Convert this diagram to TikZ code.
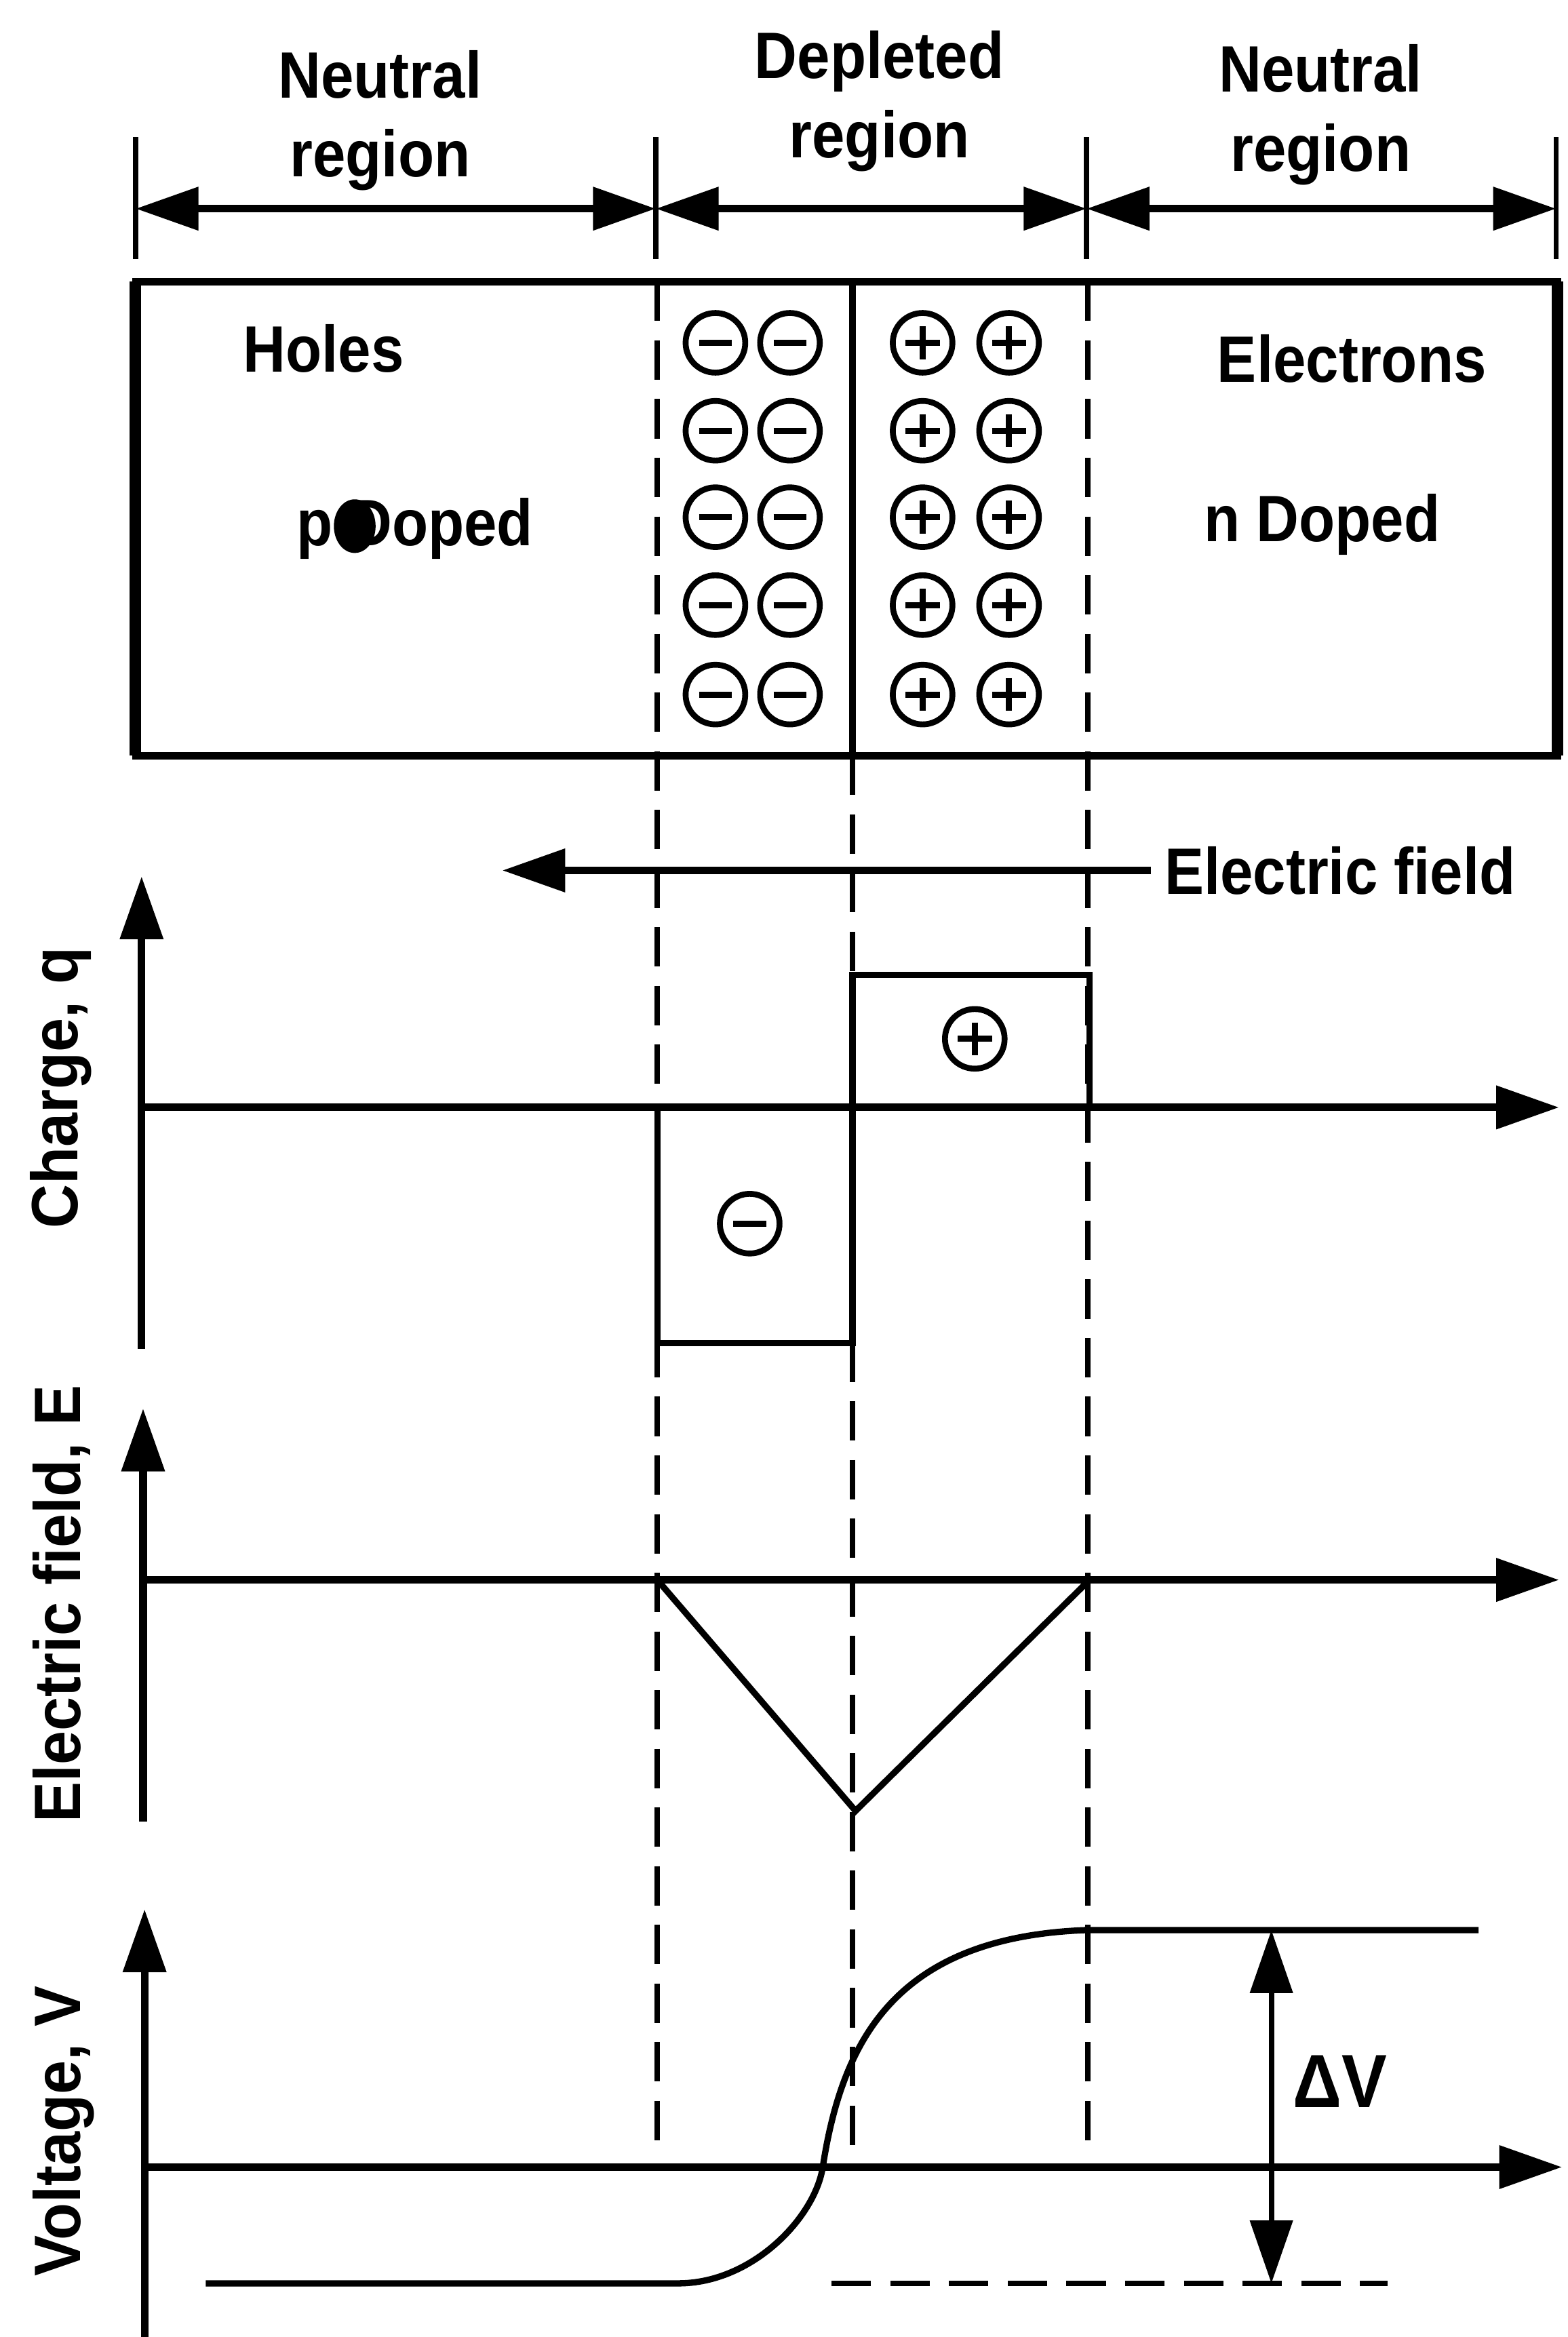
\documentclass[tikz,border=0pt]{standalone}
\usepackage{fontspec}
\setmainfont{Liberation Sans}
\newfontfamily\nfont[FakeStretch=0.9]{Liberation Sans}
\newfontfamily\rfont[FakeStretch=0.93]{Liberation Sans}
\usetikzlibrary{arrows.meta}
\begin{document}
\begin{tikzpicture}[x=0.025cm, y=-0.025cm,
  atip/.tip={Triangle[length=30pt,width=20pt]},
  lbl/.style={font=\nfont\bfseries\fontsize{31.3pt}{37.7pt}\selectfont, inner sep=0pt, align=center},
  vlbl/.style={font=\rfont\bfseries\fontsize{31.3pt}{37.7pt}\selectfont, inner sep=0pt, rotate=90, anchor=base},
  tickl/.style={line width=2.4pt},
  spanl/.style={line width=3.6pt, atip-atip},
  axisl/.style={line width=3.6pt, -atip},
  guide/.style={line width=2.6pt, dash pattern=on 18.8pt off 9.2pt},
  bline/.style={line width=3pt},
  vcurve/.style={line width=3pt, line join=round},
  ion/.style={circle, draw, line width=2.8pt, minimum size=1cm, inner sep=0pt},
  negion/.style={ion, path picture={\draw[line width=3pt] (path picture bounding box.center) ++(-11,0) -- ++(22,0);}},
  posion/.style={ion, path picture={\draw[line width=3pt] (path picture bounding box.center) ++(-11.5,0) -- ++(23,0);
      \draw[line width=3pt] (path picture bounding box.center) ++(0,-11) -- ++(0,22);}}
]
\path[fill=white, use as bounding box] (0,0) rectangle (1052,1568);

% ---------- region labels and spans ----------
\node[lbl, anchor=north] (nl) at (255,33.5) {Neutral\\region};
\node[lbl, anchor=north] (dl) at (590,20.5) {Depleted\\region};
\node[lbl, anchor=north] (nr) at (886,29.5) {Neutral\\region};

\foreach \x [count=\i] in {91,440,729,1044} {
  \coordinate (t\i) at (\x,92);
  \coordinate (b\i) at (\x,174);
  \coordinate (s\i) at (\x,140);
  \draw[tickl] (t\i) -- (b\i);
}
\draw[spanl] (s1) -- (s2);
\draw[spanl] (s2) -- (s3);
\draw[spanl] (s3) -- (s4);

% ---------- junction box ----------
\coordinate (boxNW) at (91,189);
\coordinate (boxSE) at (1045,507);
\draw[line width=3.4pt] (boxNW) rectangle (boxSE);
\draw[line width=5.5pt] (91,189) -- (91,507);
\draw[line width=5.5pt] (1045,189) -- (1045,507);
\draw[bline] (572,189) -- (572,507);

\node[lbl, anchor=base] (holes) at (217,249.5) {Holes};
\node[lbl, anchor=base] (pdop) at (278.5,366) {p Doped};
\fill (238,353) ellipse [x radius=14, y radius=18];
\node[lbl, anchor=base] (elec) at (907,256.5) {Electrons};
\node[lbl, anchor=base] (ndop) at (887,363.5) {n Doped};

\foreach \r [count=\i] in {230,289,347,406,466} {
  \node[negion] (m\i a) at (480,\r) {};
  \node[negion] (m\i b) at (530,\r) {};
  \node[posion] (p\i a) at (619,\r) {};
  \node[posion] (p\i b) at (677,\r) {};
}

% ---------- guide lines ----------
\draw[guide] (441,189) -- (441,1440);
\draw[guide] (572,507) -- (572,1440);
\draw[guide] (730,189) -- (730,1440);

% ---------- electric field arrow ----------
\coordinate (efR) at (772,584);
\coordinate (efL) at (337,584);
\draw[axisl] (efR) -- (efL);
\node[lbl, anchor=base west] (eflab) at (781,600) {Electric field};

% ---------- charge plot ----------
\coordinate (qO) at (95,743);
\draw[axisl] (95,905) -- (95,588);
\draw[axisl] (qO) -- (1046,743);
\draw[bline] (572,743) -- (572,654) -- (731,654) -- (731,743);
\draw[bline] (441,743) -- (441,901) -- (572,901) -- (572,743);
\node[posion] (qp) at (654,697) {};
\node[negion] (qn) at (503,821) {};
\node[vlbl] (qlab) at (52,730) {Charge, q};

% ---------- electric field plot ----------
\draw[axisl] (96,1222) -- (96,945);
\draw[axisl] (96,1060) -- (1046,1060);
\draw[bline, line join=miter] (441,1060) -- (574,1215) -- (731,1060);
\node[vlbl] (elab) at (54,1076) {Electric field, E};

% ---------- voltage plot ----------
\draw[axisl] (97,1568) -- (97,1281);
\draw[axisl] (97,1454) -- (1048,1454);
\draw[vcurve] (138,1532) -- (455,1532) .. controls (505,1532) and (546.8,1487.6) .. (552,1454)
   .. controls (565,1370) and (600,1300) .. (728,1295) -- (992,1295);
\draw[guide] (558,1532) -- (931,1532);
\coordinate (dvT) at (853,1295);
\coordinate (dvB) at (853,1532);
\draw[line width=2.6pt, atip-atip] (dvT) -- (dvB);
\node[lbl, anchor=base, font=\nfont\bfseries\fontsize{36pt}{40pt}\selectfont] (dv) at (899,1414) {ΔV};
\node[vlbl] (vlab) at (54,1430) {Voltage, V};
\end{tikzpicture}
\end{document}
